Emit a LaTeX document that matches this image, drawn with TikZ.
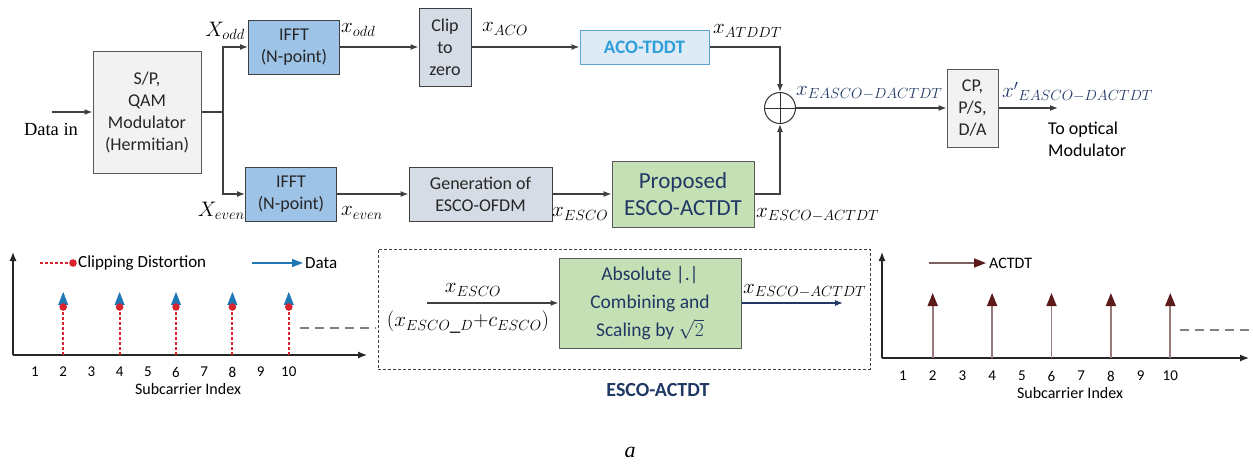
\documentclass[tikz,border=0pt]{standalone}
\usepackage{fix-cm}
\usepackage{fontspec}
\setmainfont{Carlito}
\newfontfamily\serif{Liberation Serif}
\usetikzlibrary{arrows.meta}
\definecolor{bline}{HTML}{595959}
\definecolor{wire}{HTML}{3F3F3F}
\definecolor{spfill}{HTML}{F2F2F2}
\definecolor{ifftfill}{HTML}{9DC3E6}
\definecolor{grfill}{HTML}{D6DCE5}
\definecolor{acofill}{HTML}{DEEBF7}
\definecolor{acoline}{HTML}{5BA3D0}
\definecolor{acotext}{HTML}{2E9FD8}
\definecolor{grnfill}{HTML}{C5E0B4}
\definecolor{navy}{HTML}{203864}
\definecolor{clipred}{HTML}{D9232E}
\definecolor{datablue}{HTML}{1F77B4}
\definecolor{stemc}{HTML}{9A7A7A}
\definecolor{maroon}{HTML}{5C1A1A}
\tikzset{bx/.style   = {draw=bline, line width=1pt, align=center, inner sep=0pt, text=black!85, font=\fontsize{18}{22}\selectfont},
         sp/.style   = {bx, fill=spfill, minimum width=108pt, minimum height=122pt},
         ifft/.style = {bx, fill=ifftfill, draw=black!75, minimum width=91pt, minimum height=54pt},
         gr/.style   = {bx, fill=grfill, draw=black!75},
         aco/.style  = {bx, fill=acofill, draw=acoline, text=acotext, font=\fontsize{19}{22}\selectfont\bfseries, minimum width=129pt, minimum height=34pt},
         grn/.style  = {bx, fill=grnfill, draw=bline, text=navy},
         sumc/.style = {circle, draw=black!80, line width=1pt, minimum size=31pt, inner sep=0pt},
         ml/.style   = {inner sep=0pt, font=\fontsize{21}{25}\selectfont},
         tx/.style   = {inner sep=0pt, align=left, font=\fontsize{18}{22}\selectfont},
         tk/.style   = {inner sep=0pt, font=\fontsize{15}{18}\selectfont},
         lg/.style   = {inner sep=0pt, anchor=west, font=\fontsize{17}{20}\selectfont},
         ax/.style   = {line width=1.2pt, draw=black!85, -{Latex[length=9pt,width=7pt]}},
         ln/.style   = {line width=1.2pt, draw=wire}}

\begin{document}
\begin{tikzpicture}[x=1pt, y=-1pt, >={Latex[length=8pt,width=6pt]}]
    \useasboundingbox (0,0) rectangle (1253,467);
    \node[sp] (sp) at (147,112) {S/P,\\QAM\\Modulator\\(Hermitian)};
    \node[ifft] (ifftA) at (294,47) {IFFT\\(N-point)};
    \node[ifft] (ifftB) at (291,194) {IFFT\\(N-point)};
    \node[gr, minimum width=52pt, minimum height=78pt] (clip) at (445,47) {Clip\\to\\zero};
    \node[aco] (aco) at (644.5,47) {ACO-TDDT};
    \node[gr, minimum width=143pt, minimum height=54pt] (gen) at (480.5,194) {Generation of\\ESCO-OFDM};
    \node[grn, minimum width=142pt, minimum height=66pt, font=\fontsize{23}{27}\selectfont] (prop) at (683,194) {Proposed\\ESCO-ACTDT};
    \node[sumc] (sum) at (780,108) {};
    \node[bx, fill=spfill, minimum width=51pt, minimum height=78pt] (cp) at (972.5,108) {CP,\\P/S,\\D/A};
    \coordinate (din) at (52,112); \coordinate (split) at (223,112); \coordinate (tom) at (1058,108);
    \node[inner sep=0pt, font=\serif\fontsize{18.5}{22}\selectfont] (datain) at (51,129) {Data in};
    \node[ml, anchor=east] (lXodd) at (245,31) {$X_{odd}$};
    \node[ml, anchor=east] (lXeven) at (245,211) {$X_{even}$};
    \node[ml, anchor=west] (lxodd) at (341,30) {$x_{odd}$};
    \node[ml, anchor=west] (lxeven) at (341,213) {$x_{even}$};
    \node[ml, anchor=west] (lxaco) at (482,29) {$x_{ACO}$};
    \node[ml, anchor=west] (lxatddt) at (713,31) {$x_{ATDDT}$};
    \node[ml, anchor=west] (lxesco) at (552,214) {$x_{ESCO}$};
    \node[ml, anchor=west] (lxactdt) at (756,215) {$x_{ESCO-ACTDT}$};
    \node[ml, anchor=west, text=navy] (lxsum) at (796,93) {$x_{EASCO-DACTDT}$};
    \node[ml, anchor=west, text=navy] (lxout) at (1002,92) {$x'{}_{EASCO-DACTDT}$};
    \node[tx, anchor=west] (toopt) at (1048,139) {To optical\\Modulator};
    \draw[ln, ->] (din) -- (sp);
    \draw[ln] (sp) -- (split);
    \draw[ln, ->] (split) |- (ifftA);
    \draw[ln, ->] (split) |- (ifftB);
    \draw[ln, ->] (ifftA) -- (clip);
    \draw[ln, ->] (clip) -- (aco);
    \draw[ln, ->] (aco) -| (sum);
    \draw[ln, ->] (ifftB) -- (gen);
    \draw[ln, ->] (gen) -- (prop);
    \draw[ln, ->] (prop) -| (sum);
    \draw[line width=1pt, black!80] (sum.north) -- (sum.south) (sum.west) -- (sum.east);
    \draw[ln, ->] (sum) -- (cp);
    \draw[ln, ->] (cp) -- (tom);

    \coordinate (oA) at (13,355); \coordinate (yA) at (13,252); \coordinate (xA) at (367,355);
    \draw[ax] (oA) -- (yA);
    \draw[ax] (oA) -- (xA);
    \foreach \i in {1,...,10} {\node[tk] (ta\i) at (35+28.2*\i-28.2,372) {\i};}
    \foreach \i in {2,4,6,8,10} {
      \draw[clipred, line width=2pt, dash pattern=on 3pt off 2pt] (ta\i |- oA) -- (35+28.2*\i-28.2,307);
      \draw[datablue, -{Triangle[length=13pt,width=10pt]}] (35+28.2*\i-28.2,306) -- (35+28.2*\i-28.2,292);
      \fill[clipred] (35+28.2*\i-28.2,307) circle (3.8);}
    \coordinate (lgA) at (40,263); \coordinate (lgB) at (73,263);
    \draw[clipred, line width=1.6pt, dash pattern=on 3pt off 2pt] (lgA) -- (lgB);
    \fill[clipred] (lgB) circle (3.8);
    \node[lg] (lclip) at (78,263) {Clipping Distortion};
    \coordinate (lgC) at (252,263); \coordinate (lgD) at (303,263);
    \draw[datablue, line width=1.2pt, -{Triangle[length=11pt,width=8pt]}] (lgC) -- (lgD);
    \node[lg] (ldata) at (305,263) {Data};
    \coordinate (dsA) at (300,328); \coordinate (dsB) at (376,328);
    \draw[gray, line width=1.4pt, dash pattern=on 9pt off 6pt] (dsA) -- (dsB);
    \node[tk, font=\fontsize{16}{18}\selectfont] (subA) at (188,389) {Subcarrier Index};

    \node[draw=black!75, line width=0.8pt, densely dashed, minimum width=492pt, minimum height=120pt] (escobox) at (624,309) {};
    \node[grn, minimum width=182pt, minimum height=90pt, font=\fontsize{19.5}{28}\selectfont] (abs) at (650,303) {Absolute |.|\\Combining and\\Scaling by $\sqrt{2}$};
    \coordinate (inA) at (427,303); \coordinate (outA) at (843,303);
    \draw[ln, ->] (inA) -- (abs);
    \draw[line width=1.2pt, navy, ->] (abs) -- (outA);
    \node[ml] (lxin) at (473,290) {$x_{ESCO}$};
    \node[ml] (lxsumin) at (468,322) {$(x_{ESCO\_D}{+}c_{ESCO})$};
    \node[ml, anchor=west] (lxabs) at (743,291) {$x_{ESCO-ACTDT}$};
    \node[inner sep=0pt, text=navy, font=\fontsize{20}{24}\selectfont\bfseries] (ltitle) at (658,390) {ESCO-ACTDT};

    \coordinate (oB) at (882,358); \coordinate (yB) at (882,252); \coordinate (xB) at (1249,358);
    \draw[ax] (oB) -- (yB);
    \draw[ax] (oB) -- (xB);
    \foreach \i in {1,...,10} {\node[tk] (tb\i) at (903+29.7*\i-29.7,376) {\i};}
    \foreach \i in {2,4,6,8,10} {
      \draw[stemc, line width=1.8pt, -{Triangle[length=13pt,width=10pt,color=maroon]}] (tb\i |- oB) -- (903+29.7*\i-29.7,293);}
    \coordinate (lgE) at (929,263); \coordinate (lgF) at (986,263);
    \draw[stemc!80!black, line width=1.6pt, -{Triangle[length=12pt,width=9pt,color=maroon]}] (lgE) -- (lgF);
    \node[lg, font=\fontsize{16}{19}\selectfont] (lactdt) at (989,263) {ACTDT};
    \coordinate (dsC) at (1180,330); \coordinate (dsD) at (1252,330);
    \draw[gray, line width=1.4pt, dash pattern=on 9pt off 6pt] (dsC) -- (dsD);
    \node[tk, font=\fontsize{16}{18}\selectfont] (subB) at (1070,393) {Subcarrier Index};

    \node[inner sep=0pt, font=\serif\itshape\fontsize{22}{26}\selectfont] (cap) at (630,452) {a};
\end{tikzpicture}
\end{document}
